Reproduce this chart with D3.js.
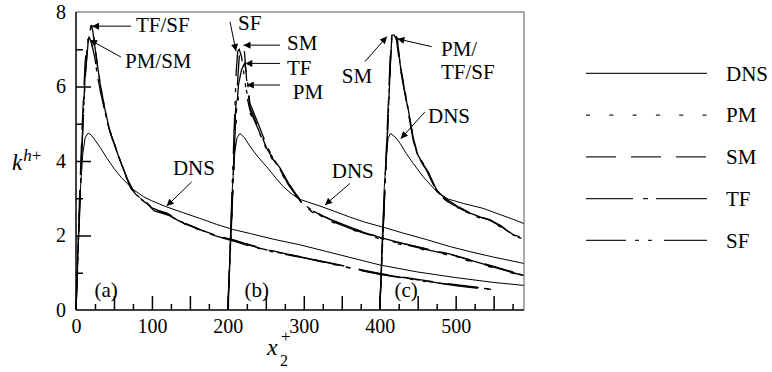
<!DOCTYPE html>
<html><head><meta charset="utf-8">
<script src="https://cdn.jsdelivr.net/npm/d3@7"></script>
<style>
body{margin:0;background:#fff}
svg{display:block}
svg text{font-family:"Liberation Serif","Times New Roman",Tinos,"DejaVu Serif",serif !important;fill:#000}
</style>
</head><body>
<svg id="chart" width="772" height="372"></svg>
<script>
// ---------------- data ----------------
const xTickLabels = [0, 100, 200, 300, 400, 500];
const yTickLabels = [0, 2, 4, 6, 8];
const seriesNames = ["DNS", "PM", "SM", "TF", "SF"];

// (a) inflow at x2+ = 0
const dnsA = [[0,0],[3,1.8],[6,3.3],[9,4.2],[12,4.62],[16,4.75],[20,4.7],[25,4.56],[32,4.36],[40,4.1],[50,3.8],[60,3.55],[75,3.24],[89,3.04],[100,2.93],[119,2.77],[140,2.62],[163,2.46],[185,2.3],[207,2.16],[230,2.05],[260,1.9],[295,1.75],[330,1.57],[365,1.39],[400,1.21],[450,1.02],[500,0.87],[550,0.74],[590,0.66]];
const pmA = [[0,0],[4,2.4],[8,4.7],[12,6.5],[16,7.29],[19,7.26],[23,6.95],[27,6.45],[31,5.98],[36,5.5],[42,5.0],[48,4.58],[55,4.18],[62,3.8],[70,3.38],[78,3.12],[86,2.98],[94,2.86],[102,2.7],[112,2.64],[122,2.56],[132,2.44],[142,2.34],[155,2.23],[168,2.12],[182,2.02],[196,1.94],[210,1.86],[225,1.77],[240,1.68],[255,1.6],[270,1.53],[285,1.47],[300,1.41],[320,1.32],[340,1.23],[360,1.14],[380,1.05],[400,0.97],[425,0.89],[450,0.81],[475,0.74],[500,0.67],[525,0.61],[552,0.56]];
const smA = [[0,0],[4,2.6],[8,4.9],[12,6.65],[15,7.24],[18,7.3],[21,7.12],[25,6.75],[29,6.2],[34,5.7],[40,5.12],[46,4.7],[53,4.3],[60,3.92],[68,3.5],[76,3.18],[84,3.02],[92,2.9],[100,2.74],[110,2.66],[120,2.6],[130,2.47],[141,2.35],[153,2.25],[166,2.14],[180,2.04],[194,1.95],[208,1.88],[222,1.79],[238,1.7],[253,1.62],[268,1.55],[283,1.48],[298,1.42],[318,1.33],[338,1.25],[358,1.16],[378,1.07],[400,0.98],[425,0.9],[450,0.82],[475,0.75],[500,0.68],[525,0.62],[548,0.57]];
const tfA = [[0,0],[4,2.3],[8,4.5],[12,6.3],[16,7.25],[20,7.65],[22,7.5],[25,7.05],[29,6.45],[33,5.95],[38,5.4],[44,4.85],[50,4.5],[57,4.08],[64,3.7],[71,3.32],[79,3.1],[87,2.97],[95,2.84],[103,2.68],[113,2.62],[123,2.55],[133,2.42],[143,2.32],[156,2.21],[170,2.1],[184,2.0],[198,1.92],[212,1.84],[227,1.75],[242,1.66],[257,1.58],[272,1.52],[287,1.46],[302,1.4],[322,1.31],[342,1.22],[362,1.13],[382,1.04],[402,0.96],[427,0.88],[452,0.8],[477,0.73],[502,0.66],[527,0.6],[550,0.55]];
const sfA = [[0,0],[4,2.2],[8,4.4],[12,6.2],[16,7.2],[19,7.6],[21,7.62],[24,7.25],[28,6.6],[32,6.05],[37,5.5],[43,4.9],[49,4.55],[56,4.12],[63,3.74],[71,3.3],[79,3.08],[87,2.95],[95,2.83],[103,2.66],[113,2.6],[123,2.53],[133,2.41],[143,2.31],[156,2.2],[170,2.09],[184,1.99],[198,1.9],[212,1.82],[227,1.73],[242,1.65],[257,1.57],[272,1.51],[287,1.45],[302,1.39],[322,1.3],[342,1.21],[362,1.12],[382,1.03],[402,0.95],[427,0.87],[452,0.79],[477,0.72],[502,0.65],[527,0.59],[554,0.54]];

// (b) inflow at x2+ = 200
const dnsB = [[200,0],[203,1.8],[206,3.3],[209,4.2],[212,4.62],[216,4.74],[222,4.62],[229,4.4],[240,4.1],[251,3.85],[262,3.57],[273,3.31],[285,3.1],[295,2.97],[305,2.9],[320,2.8],[339,2.66],[360,2.5],[380,2.36],[405,2.22],[430,2.07],[460,1.9],[493,1.7],[520,1.56],[550,1.42],[590,1.25]];
const pmB = [[200,0],[205,2.3],[210,4.8],[214,5.75],[218,5.98],[222,6.05],[225,5.85],[229,5.3],[240,4.8],[251,4.38],[260,4.05],[269,3.74],[280,3.33],[290,3.05],[300,2.78],[310,2.64],[325,2.48],[340,2.34],[360,2.18],[380,2.04],[405,1.88],[430,1.75],[460,1.61],[493,1.46],[520,1.3],[550,1.13],[576,0.98],[590,0.88]];
const smB = [[200,0],[205,2.5],[210,5.3],[215,6.8],[218,7.05],[220,7.08],[222,6.9],[225,6.1],[229,5.45],[240,4.9],[251,4.35],[260,4.03],[269,3.78],[280,3.38],[290,3.09],[300,2.82],[310,2.68],[325,2.52],[340,2.38],[360,2.22],[380,2.08],[405,1.92],[430,1.79],[460,1.65],[493,1.5],[520,1.34],[550,1.17],[576,1.02]];
const tfB = [[200,0],[205,2.4],[210,5.0],[214,6.05],[218,6.45],[222,6.62],[225,6.3],[229,5.55],[240,5.0],[251,4.42],[260,4.06],[269,3.8],[280,3.4],[290,3.1],[300,2.84],[310,2.69],[325,2.53],[340,2.39],[360,2.23],[380,2.08],[405,1.92],[430,1.79],[460,1.65],[493,1.49],[520,1.33],[550,1.16],[576,1.01],[590,0.93]];
const sfB = [[200,0],[204,2.3],[208,4.7],[211,6.4],[213,6.95],[215,7.0],[218,6.8],[222,6.2],[226,5.65],[229,5.37],[240,4.85],[251,4.3],[260,4.0],[269,3.76],[280,3.35],[290,3.07],[300,2.8],[310,2.66],[325,2.5],[340,2.36],[360,2.2],[380,2.06],[405,1.9],[430,1.77],[460,1.63],[493,1.48],[520,1.32],[550,1.15],[576,1.0],[590,0.92]];

// (c) inflow at x2+ = 400
const dnsC = [[400,0],[403,1.8],[406,3.3],[409,4.2],[411,4.6],[414,4.74],[420,4.65],[427,4.47],[435,4.2],[444,3.94],[457,3.58],[466,3.38],[475,3.18],[490,2.98],[510,2.86],[536,2.73],[560,2.55],[575,2.44],[590,2.32]];
const pmC = [[400,0],[404,1.9],[408,3.8],[411,5.1],[414,6.6],[416,7.36],[420,7.4],[423,7.28],[427,6.55],[435,5.66],[444,4.62],[449,4.23],[456,3.96],[462,3.77],[468,3.5],[475,3.2],[482,3.05],[488,2.95],[497,2.84],[506,2.7],[512,2.63],[519,2.57],[532,2.47],[545,2.39],[560,2.22],[576,1.99],[590,1.9]];
const smC = [[400,0],[404,2.0],[408,4.0],[411,5.4],[414,6.9],[416,7.38],[419,7.38],[422,7.25],[427,6.5],[435,5.6],[444,4.56],[449,4.2],[456,3.93],[462,3.74],[468,3.48],[475,3.18],[482,3.03],[488,2.93],[497,2.82],[506,2.75],[512,2.68],[519,2.6],[532,2.5],[545,2.42],[560,2.26],[578,1.95]];
const tfC = [[400,0],[404,1.9],[408,3.8],[411,5.1],[414,6.6],[416,7.36],[420,7.4],[423,7.3],[427,6.58],[435,5.68],[444,4.64],[449,4.25],[456,3.98],[462,3.79],[468,3.52],[475,3.22],[482,3.07],[488,2.97],[497,2.86],[506,2.72],[512,2.65],[519,2.59],[532,2.49],[545,2.41],[560,2.24],[576,2.02],[590,1.93]];
const sfC = [[400,0],[404,1.9],[408,3.8],[411,5.1],[414,6.6],[416,7.36],[420,7.4],[423,7.29],[427,6.53],[435,5.64],[444,4.6],[449,4.21],[456,3.95],[462,3.76],[468,3.5],[475,3.2],[482,3.05],[488,2.95],[497,2.85],[506,2.72],[512,2.66],[519,2.6],[532,2.5],[545,2.42],[560,2.25],[576,2.01],[590,1.92]];

// annotation texts (positions in data units) and arrows
const annotations = [
  {text:"TF/SF", at:[79,7.46],  from:[72.4,7.62], to:[21.1,7.62]},
  {text:"PM/SM", at:[64.5,6.5], from:[59.3,6.79], to:[18.4,7.25]},
  {text:"DNS",   at:[127.7,3.62], from:[152.4,3.44], to:[119.4,2.79]},
  {text:"SF",    at:[213.4,7.52], from:[202.8,7.74], to:[210.7,6.95]},
  {text:"SM",    at:[277.9,6.97], from:[268.7,7.11], to:[220.6,7.11]},
  {text:"TF",    at:[277.9,6.30], from:[268.7,6.62], to:[223,6.62]},
  {text:"PM",    at:[285.4,5.66], from:[268.7,6.04], to:[225,6.04]},
  {text:"DNS",   at:[336.8,3.54], from:[360.9,3.40], to:[327.9,2.82]},
  {text:"SM",    at:[350,6.09],   from:[380.6,6.67], to:[409.5,7.34]},
  {text:"PM/",   at:[480.7,6.83], from:[468.5,7.07], to:[423.2,7.28]},
  {text:"TF/SF", at:[480.7,6.20]},
  {text:"DNS",   at:[463.6,5.02], from:[459.6,5.32], to:[427.8,4.6]}
];
const panelLabels = [{text:"(a)", at:[24.4,0.36]},{text:"(b)", at:[221.9,0.36]},{text:"(c)", at:[419.5,0.36]}];

// ---------------- drawing ----------------
const FONT = '"Liberation Serif","Times New Roman",Tinos,"DejaVu Serif",serif';
const svg = d3.select("#chart");
const x = d3.scaleLinear().domain([0, 590]).range([76, 524]);
const y = d3.scaleLinear().domain([0, 8]).range([310, 12]);

const dash = {
  DNS: null,
  PM: "4,19.3",
  SM: "30,15",
  TF: "47,10,5,8",
  SF: "40,9,4,9,4,12"
};
const legendDash = {
  DNS: null,
  PM: "4,19.3",
  SM: "30,15",
  TF: "47,10,5,8,51",
  SF: "40,9,4,9,4,12,43"
};

const defs = svg.append("defs");
defs.append("marker").attr("id","ah").attr("viewBox","0 0 10 10")
  .attr("refX",10).attr("refY",5).attr("markerWidth",10).attr("markerHeight",7)
  .attr("markerUnits","userSpaceOnUse").attr("orient","auto")
  .append("path").attr("d","M0,0L10,5L0,10Z").attr("fill","#000");

const line = d3.line().x(d => x(d[0])).y(d => y(d[1]));

const curves = [
  {name:"PM", data:pmA},{name:"SM", data:smA},{name:"TF", data:tfA},{name:"SF", data:sfA},
  {name:"PM", data:pmB},{name:"SM", data:smB},{name:"TF", data:tfB},{name:"SF", data:sfB},
  {name:"PM", data:pmC},{name:"SM", data:smC},{name:"TF", data:tfC},{name:"SF", data:sfC},
  {name:"DNS", data:dnsA},{name:"DNS", data:dnsB},{name:"DNS", data:dnsC}
];

svg.append("g").selectAll("path").data(curves).join("path")
  .attr("d", d => line(d.data))
  .attr("fill","none")
  .attr("stroke","#000")
  .attr("stroke-width", d => d.name === "DNS" ? 1 : 1.3)
  .attr("stroke-dasharray", d => dash[d.name]);

// frame (top and right)
svg.append("line").attr("x1",x(0)).attr("x2",x(590)).attr("y1",y(8)).attr("y2",y(8)).attr("stroke","#555").attr("stroke-width",1);
svg.append("line").attr("x1",x(590)).attr("x2",x(590)).attr("y1",y(8)).attr("y2",y(0)).attr("stroke","#555").attr("stroke-width",1);

// axes with inward ticks
function styleAxis(g){ g.select(".domain").remove(); g.selectAll("line").attr("stroke","#000").attr("stroke-width",1.5); }
function styleLabels(g){ g.attr("font-family", FONT); g.select(".domain").remove(); g.selectAll("text").attr("font-size",20).style("font-family", FONT); }
const gx = svg.append("g").attr("transform",`translate(0,${y(0)})`);
gx.append("g").call(d3.axisBottom(x).tickValues(d3.range(50,576,50)).tickSize(-14).tickFormat("")).call(styleAxis);
gx.append("g").call(d3.axisBottom(x).tickValues(d3.range(25,576,50)).tickSize(-6).tickFormat("")).call(styleAxis);
gx.append("g").call(d3.axisBottom(x).tickValues(xTickLabels).tickSize(0).tickPadding(9)).call(styleLabels);

const gy = svg.append("g").attr("transform",`translate(${x(0)},0)`);
gy.append("g").call(d3.axisLeft(y).tickValues([2,4,6]).tickSize(-15).tickFormat("")).call(styleAxis);
gy.append("g").call(d3.axisLeft(y).tickValues([1,3,5,7]).tickSize(-7).tickFormat("")).call(styleAxis);
gy.append("g").call(d3.axisLeft(y).tickValues(yTickLabels).tickSize(0).tickPadding(10)).call(styleLabels);

svg.append("line").attr("x1",x(0)).attr("x2",x(590)).attr("y1",y(0)).attr("y2",y(0)).attr("stroke","#000").attr("stroke-width",1.5);
svg.append("line").attr("x1",x(0)).attr("x2",x(0)).attr("y1",y(0)).attr("y2",y(8)).attr("stroke","#000").attr("stroke-width",1.5);

// annotations
const gA = svg.append("g").style("font-family", FONT);
annotations.forEach(a => {
  gA.append("text").attr("x",x(a.at[0])).attr("y",y(a.at[1])).attr("font-size",21).style("font-family", FONT).text(a.text);
  if (a.from) {
    gA.append("line").attr("x1",x(a.from[0])).attr("y1",y(a.from[1]))
      .attr("x2",x(a.to[0])).attr("y2",y(a.to[1]))
      .attr("stroke","#000").attr("stroke-width",1).attr("marker-end","url(#ah)");
  }
});
panelLabels.forEach(p => {
  gA.append("text").attr("x",x(p.at[0])).attr("y",y(p.at[1])).attr("font-size",21).style("font-family", FONT).text(p.text);
});

// axis titles
const yl = svg.append("text").attr("x",12).attr("y",170).attr("font-size",23).style("font-family", FONT);
yl.append("tspan").attr("font-style","italic").text("k");
yl.append("tspan").attr("font-size",17).attr("dy",-9).attr("dx",1).attr("font-style","italic").text("h");
yl.append("tspan").attr("font-size",17).text("+");

svg.append("text").attr("x",267).attr("y",355).attr("font-size",24).attr("font-style","italic").style("font-family", FONT).text("x");
svg.append("text").attr("x",280).attr("y",366).attr("font-size",16).style("font-family", FONT).text("2");
svg.append("text").attr("x",281).attr("y",342).attr("font-size",17).style("font-family", FONT).text("+");

// legend
const ly = d3.scalePoint().domain(seriesNames).range([73.3, 240.3]);
const gL = svg.append("g");
seriesNames.forEach(n => {
  gL.append("line").attr("x1",586).attr("x2",707).attr("y1",ly(n)).attr("y2",ly(n))
    .attr("stroke","#222").attr("stroke-width",1.2).attr("stroke-dasharray",legendDash[n]);
  gL.append("text").attr("x",726).attr("y",ly(n)).attr("dy","0.35em").attr("font-size",21).style("font-family", FONT).text(n);
});
</script>
</body></html>
